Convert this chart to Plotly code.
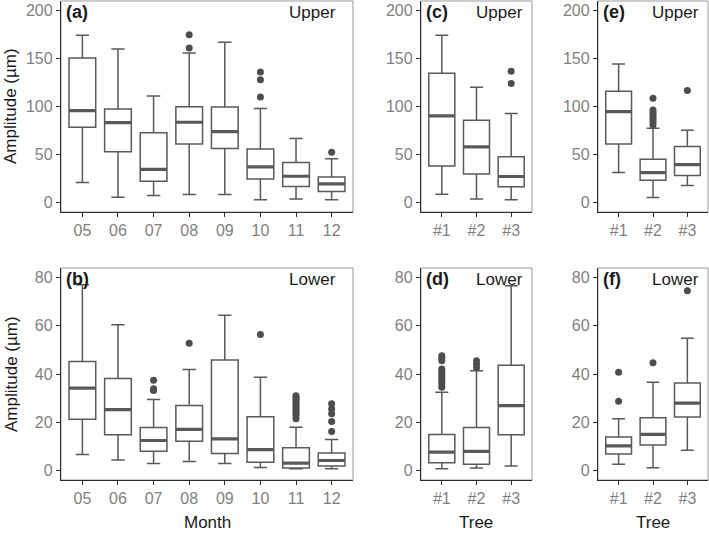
import plotly.graph_objects as go

W, H = 709, 535

months = ["05", "06", "07", "08", "09", "10", "11", "12"]
trees = ["#1", "#2", "#3"]

# Panel (a) Upper, by month
a_lower = [20.7, 5.5, 7.3, 8.3, 8.3, 2.8, 3.5, 2.8]
a_q1 = [78.4, 52.8, 22.1, 60.8, 56.3, 24.5, 16.6, 11.4]
a_median = [95.7, 83.2, 34.5, 83.6, 73.9, 37.0, 27.3, 19.3]
a_q3 = [150.6, 97.4, 72.5, 99.8, 99.5, 55.6, 41.5, 26.6]
a_upper = [174.4, 160.0, 111.0, 155.8, 167.0, 97.8, 66.7, 45.6]
a_outliers = [[], [], [], [174.8, 161.0], [], [136.0, 128.0, 110.0], [], [52.2]]

# Panel (b) Lower, by month
b_lower = [6.6, 4.3, 2.9, 3.7, 2.8, 1.2, 0.7, 0.7]
b_q1 = [21.2, 14.8, 7.9, 12.1, 7.0, 3.4, 1.0, 1.8]
b_median = [34.1, 25.2, 12.4, 17.0, 13.1, 8.6, 3.0, 4.1]
b_q3 = [45.2, 38.1, 17.8, 26.9, 45.8, 22.3, 9.4, 7.2]
b_upper = [77.0, 60.4, 29.4, 41.9, 64.4, 38.6, 17.9, 12.8]
b_outliers = [[], [], [37.4, 33.9, 33.2], [52.8], [], [56.4],
              [31.0, 30.2, 29.5, 28.6, 27.8, 27.0, 26.1, 25.3, 24.4, 23.6, 22.7, 21.4],
              [27.6, 25.5, 23.5, 20.3, 16.1]]

# Panel (c) Upper, by tree
c_lower = [8.6, 3.5, 2.8]
c_q1 = [38.0, 29.7, 16.2]
c_median = [90.2, 58.0, 27.0]
c_q3 = [134.7, 85.7, 47.7]
c_upper = [174.4, 120.2, 92.6]
c_outliers = [[], [], [136.8, 124.0]]

# Panel (d) Lower, by tree
d_lower = [0.7, 1.0, 1.8]
d_q1 = [3.2, 2.5, 14.8]
d_median = [7.6, 7.9, 26.9]
d_q3 = [14.9, 17.8, 43.6]
d_upper = [32.4, 41.4, 76.6]
d_outliers = [[47.6, 46.6, 45.5, 42.1, 41.0, 40.0, 39.0, 38.0, 36.9, 35.9, 34.5],
              [45.5, 44.2, 42.6], []]

# Panel (e) Upper, by tree
e_lower = [31.1, 5.2, 17.6]
e_q1 = [60.8, 23.1, 28.0]
e_median = [94.6, 31.1, 39.4]
e_q3 = [116.0, 44.9, 58.4]
e_upper = [144.4, 77.4, 75.3]
e_outliers = [[], [108.5, 96.4, 93.5, 91.2, 88.0, 86.0, 83.5, 80.8], [116.8]]

# Panel (f) Lower, by tree
f_lower = [2.5, 1.1, 8.3]
f_q1 = [6.8, 10.5, 22.1]
f_median = [10.2, 14.9, 27.9]
f_q3 = [13.8, 21.8, 36.3]
f_upper = [21.4, 36.6, 54.8]
f_outliers = [[40.7, 28.7], [44.7], [74.6]]

upper_ticks = [0, 50, 100, 150, 200]
lower_ticks = [0, 20, 40, 60, 80]

BOX = "#595959"
PT = "#4d4d4d"
AX = "#2b2b2b"
TICKTXT = "#7f7f7f"
FONT = "Liberation Sans, Arial, sans-serif"
TICKSIZE = 16
TITLESIZE = 17


def px_x(p):
    return p / W


def px_y(p):
    return 1 - p / H


panels = [
    ("a", months, a_lower, a_q1, a_median, a_q3, a_upper, a_outliers, (61, 353), (1, 212), "(a)", "Upper", upper_ticks),
    ("b", months, b_lower, b_q1, b_median, b_q3, b_upper, b_outliers, (61, 353), (268, 480), "(b)", "Lower", lower_ticks),
    ("c", trees, c_lower, c_q1, c_median, c_q3, c_upper, c_outliers, (421, 532), (1, 212), "(c)", "Upper", upper_ticks),
    ("d", trees, d_lower, d_q1, d_median, d_q3, d_upper, d_outliers, (421, 532), (268, 480), "(d)", "Lower", lower_ticks),
    ("e", trees, e_lower, e_q1, e_median, e_q3, e_upper, e_outliers, (598, 708), (1, 212), "(e)", "Upper", upper_ticks),
    ("f", trees, f_lower, f_q1, f_median, f_q3, f_upper, f_outliers, (598, 708), (268, 480), "(f)", "Lower", lower_ticks),
]

fig = go.Figure()
layout = {}
shapes = []
annotations = []

for i, (key, cats, lo, q1, md, q3, hi, outs, xd, yd, lab, pos, ticks) in enumerate(panels):
    n = i + 1
    xa = "x" if n == 1 else f"x{n}"
    ya = "y" if n == 1 else f"y{n}"
    fig.add_trace(go.Box(
        x=cats, q1=q1, median=md, q3=q3, lowerfence=lo, upperfence=hi,
        fillcolor="white", line=dict(color=BOX, width=1.5), width=0.75,
        boxpoints=False, xaxis=xa, yaxis=ya, hoverinfo="skip", showlegend=False,
    ))
    fig.add_trace(go.Box(
        x=cats, q1=md, median=md, q3=md, lowerfence=md, upperfence=md,
        fillcolor="rgba(0,0,0,0)", line=dict(color=BOX, width=3.2), width=0.75,
        boxpoints=False, xaxis=xa, yaxis=ya, hoverinfo="skip", showlegend=False,
    ))
    ox, oy = [], []
    for c, vals in zip(cats, outs):
        for v in vals:
            ox.append(c)
            oy.append(v)
    fig.add_trace(go.Scatter(
        x=ox, y=oy, mode="markers", marker=dict(color=PT, size=7),
        xaxis=xa, yaxis=ya, hoverinfo="skip", showlegend=False,
    ))

    ncat = len(cats)
    yr = [-10, 210] if ticks is upper_ticks else [-4, 84]
    layout["xaxis" if n == 1 else f"xaxis{n}"] = dict(
        domain=[px_x(xd[0]), px_x(xd[1])], anchor=ya,
        type="category", categoryorder="array", categoryarray=cats,
        range=[-0.6, ncat - 0.4],
        showline=True, linecolor=AX, linewidth=1.4,
        ticks="outside", ticklen=4, tickwidth=1.2, tickcolor=AX,
        tickfont=dict(color=TICKTXT, size=TICKSIZE, family=FONT),
        showgrid=False, zeroline=False, fixedrange=True,
    )
    layout["yaxis" if n == 1 else f"yaxis{n}"] = dict(
        domain=[px_y(yd[1]), px_y(yd[0])], anchor=xa,
        range=yr, tickvals=ticks,
        showline=True, linecolor=AX, linewidth=1.4,
        ticks="outside", ticklen=4, tickwidth=1.2, tickcolor=AX,
        tickfont=dict(color=TICKTXT, size=TICKSIZE, family=FONT),
        showgrid=False, zeroline=False, fixedrange=True,
    )
    shapes.append(dict(
        type="rect", xref="paper", yref="paper",
        x0=px_x(xd[0]), x1=px_x(xd[1]), y0=px_y(yd[1]), y1=px_y(yd[0]),
        line=dict(color="#9a9a9a", width=1), layer="below",
    ))
    ty = yd[0] + 11
    annotations.append(dict(
        text=f"<b>{lab}</b>", xref="paper", yref="paper",
        x=px_x(xd[0] + 3), y=px_y(ty), xanchor="left", yanchor="middle",
        showarrow=False, font=dict(size=TITLESIZE + 1, color="#1a1a1a", family=FONT),
    ))
    rpad = 15 if key in ("a", "b") else 7
    annotations.append(dict(
        text=pos, xref="paper", yref="paper",
        x=px_x(xd[1] - rpad), y=px_y(ty), xanchor="right", yanchor="middle",
        showarrow=False, font=dict(size=TITLESIZE, color="#1a1a1a", family=FONT),
    ))

for yc in (106, 374):
    annotations.append(dict(
        text="Amplitude (µm)", xref="paper", yref="paper",
        x=px_x(11), y=px_y(yc), xanchor="center", yanchor="middle",
        textangle=-90, showarrow=False,
        font=dict(size=TITLESIZE, color="#1a1a1a", family=FONT),
    ))

for xc, t in ((207, "Month"), (476, "Tree"), (653, "Tree")):
    annotations.append(dict(
        text=t, xref="paper", yref="paper",
        x=px_x(xc), y=px_y(522), xanchor="center", yanchor="middle",
        showarrow=False, font=dict(size=TITLESIZE, color="#1a1a1a", family=FONT),
    ))

fig.update_layout(
    width=W, height=H, margin=dict(l=0, r=0, t=0, b=0),
    paper_bgcolor="white", plot_bgcolor="white",
    boxmode="overlay", shapes=shapes, annotations=annotations,
    font=dict(family=FONT),
    **layout,
)

fig.write_html("out.html")
